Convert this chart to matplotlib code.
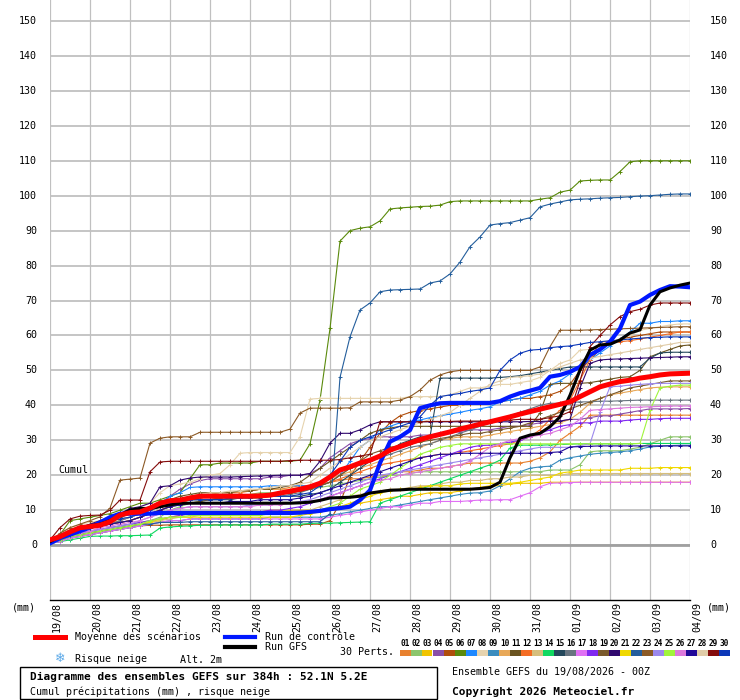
import numpy as np
import matplotlib
matplotlib.use('Agg')
import matplotlib.pyplot as plt
from matplotlib.lines import Line2D
from matplotlib.patches import Rectangle
from matplotlib.transforms import blended_transform_factory, offset_copy

# echeances toutes les 6h, 0 -> 384h
hours = np.arange(0, 385, 6)
dates = ['19/08', '20/08', '21/08', '22/08', '23/08', '24/08', '25/08', '26/08', '27/08',
         '28/08', '29/08', '30/08', '31/08', '01/09', '02/09', '03/09', '04/09']
yticks = list(range(0, 151, 10))

m01 = [1, 2, 3, 4, 5, 5.5, 6, 6.5, 7, 8, 9, 10, 11, 12, 13, 14,
       14.5, 15, 15, 15, 15.5, 16, 16, 16, 16.5, 17, 17, 17.5, 18, 18.5, 19, 19,
       19.5, 20, 20, 21, 21, 21.5, 22, 22, 22.5, 23, 23.5, 23.5, 23.5, 23.5, 23.5, 23.5,
       24, 25, 26.7, 30, 32, 34, 37.2, 37.2, 37.2, 37.2, 37.2, 37.2, 37.2, 37.2, 37.2, 37.2,
       37.2]
m02 = [1, 2, 3, 3.5, 4, 4.5, 5, 5.5, 6, 6.5, 7, 8, 10, 11, 12, 12.5,
       13, 13.5, 14, 14, 14.5, 15, 15, 15, 15, 15.5, 16, 16.5, 17, 17.5, 18, 18.5,
       19, 19.5, 20, 20, 20.5, 21, 21, 21, 21, 21, 21, 21, 21, 21, 21, 21,
       21, 21, 21.5, 21.5, 21.5, 23, 26.7, 27, 27, 27, 27.5, 28, 29, 30, 31, 31,
       31]
m03 = [0.5, 1.5, 2.5, 3, 3.5, 4, 4.5, 5, 5.5, 6, 6.5, 7, 8, 8.5, 9, 9,
       9, 9, 9, 9, 9.5, 9.5, 10, 10, 10, 10, 10, 10, 10.5, 11, 11.5, 12,
       12.5, 13, 13.5, 14, 14, 14.5, 15, 15, 15, 15.5, 16, 16.5, 17, 17, 17.5, 17.7,
       17.7, 17.7, 18, 18, 18, 18, 18, 18, 18, 18, 18, 18, 18, 18, 18, 18,
       18]
m04 = [1, 2.5, 4, 5, 6, 6.5, 7, 7.5, 8, 9, 10, 11, 14, 16, 17.5, 18.5,
       19, 19, 19, 19, 19, 19, 19.5, 19.5, 20, 20, 20.5, 22, 25, 27, 29, 30,
       30.5, 31, 31, 31, 31, 31.5, 31.5, 32, 32, 32.5, 33, 33, 33, 33.5, 34, 34,
       34.5, 35, 35.5, 35.5, 36, 36, 36.5, 37, 37, 37.5, 38, 38.5, 39, 39, 39, 39,
       39.1]
m05 = [0.5, 1, 2, 2.5, 3, 3.5, 4, 4.5, 5, 5.5, 5.7, 5.7, 5.8, 5.8, 5.8, 5.8,
       5.8, 5.8, 5.8, 5.8, 5.8, 5.8, 5.8, 5.8, 5.8, 5.8, 6, 6, 7, 12, 19.6, 24,
       28, 32, 35, 37, 38, 38.5, 39, 39.5, 40, 40, 40.5, 40.5, 41, 41, 41.5, 42,
       42, 42.5, 43, 44, 46, 50, 53, 56, 58, 59, 59.5, 60, 60.5, 61, 61, 61,
       61]
m06 = [1, 3, 7, 7.5, 8, 8.5, 9, 10, 11, 12, 12, 13, 14, 15, 19, 23,
       23, 23.5, 23.5, 23.5, 23.5, 24, 24, 24, 24, 24.3, 29, 41.5, 62, 87, 90, 90.7,
       91.1, 92.8, 96.2, 96.5, 96.7, 96.9, 97, 97.3, 98.3, 98.5, 98.5, 98.5, 98.5, 98.5, 98.5, 98.5,
       98.5, 99, 99.4, 101, 101.6, 104.2, 104.4, 104.5, 104.5, 106.9, 109.7, 110, 110, 110, 110, 110,
       110]
m07 = [1, 2, 3, 4, 5, 5.5, 6, 7, 8, 9, 10, 12, 14, 15, 16.5, 16.7,
       16.7, 16.7, 16.7, 16.7, 16.7, 16.7, 17, 17, 17, 17, 17, 17, 18, 20, 24, 28,
       30, 33, 34, 35, 35.5, 35.8, 36.5, 37, 37.5, 38, 38.6, 39, 39.6, 41, 41.5, 42,
       43, 44, 45.8, 47, 49, 51, 53, 55, 57, 59, 61, 63.5, 63.5, 64, 64, 64.2,
       64.2]
m08 = [1.5, 3, 5, 6, 6.5, 7, 7.5, 9, 10, 11, 12, 15, 17, 17.5, 18, 19,
       20, 20.5, 23, 26.3, 26.5, 26.5, 26.5, 26.5, 26.5, 31, 41.8, 42, 42, 42, 42, 42,
       42, 42, 42, 42, 42.5, 42.5, 42.5, 42.5, 43, 44, 45, 45, 45.5, 46, 46, 46.5,
       47, 48, 50, 52, 53, 55.8, 56, 57, 58, 59, 60, 61.5, 62, 62.5, 63, 63.3,
       63.3]
m09 = [0.5, 1, 2, 2.5, 3, 3.5, 4, 4.5, 5, 5.5, 6, 6.5, 7, 7, 7.5, 7.5,
       7.5, 7.5, 7.5, 7.5, 7.5, 7.5, 8, 8, 8, 8, 8, 8, 8.5, 9, 9.5, 10,
       10.5, 11, 11, 11.5, 12, 12.5, 13, 13.5, 14, 14.5, 14.9, 15, 15.5, 17, 19, 21,
       22, 22.4, 22.6, 24.3, 25, 25.5, 26, 26.3, 26.5, 26.7, 27, 27.5, 28.1, 28.3, 28.5, 28.6,
       28.6]
m10 = [1, 2, 3, 4, 5, 6, 6.5, 7, 8, 9, 10, 11, 12, 13, 14, 14.5,
       15, 15, 15, 15.5, 15.5, 16, 16, 16, 16, 16.5, 17, 18, 19, 20, 21, 22,
       23, 24, 25, 26, 27, 28, 29, 30, 30.5, 31, 31, 31, 31.5, 32, 32.5, 33,
       33.5, 34, 34.5, 35, 36, 38, 40.6, 42, 43, 43.5, 44, 44.5, 45, 45.2, 45.3, 45.3,
       45.3]
m11 = [1, 2, 3.5, 4.5, 5.5, 6, 7, 8, 9, 10, 11, 12, 13, 14, 14.5, 15,
       15, 15, 15, 15.5, 15.5, 16, 16, 16.5, 17, 18, 20, 22, 24, 26, 28, 30,
       32, 33, 33.5, 34, 34, 34, 34, 34, 34, 34, 34, 34, 34, 34, 34, 34,
       34, 37.8, 46, 46.3, 46.3, 46.3, 46.5, 47, 47.5, 48, 48.2, 50, 53.9, 55, 56, 57,
       57.3]
m12 = [1, 2, 3, 4, 5, 5.5, 6, 6.5, 7, 8, 9, 10, 11, 12, 13, 13.5,
       14, 14, 14, 14, 14, 14.5, 14.5, 14.5, 15, 15.5, 16, 17, 18, 19, 20, 21,
       22, 23, 23.5, 24, 24.5, 25, 25.5, 26, 26, 26.5, 27, 27.5, 28, 28.5, 29, 30,
       31, 33, 36, 38.6, 41.5, 47.2, 53, 58.2, 58.2, 58.2, 58.5, 59, 59.5, 60, 60.5, 61,
       61]
m13 = [0.5, 1.5, 2.5, 3, 3.5, 4, 4.5, 5, 5.5, 6, 6.5, 7, 7.5, 8, 8, 8.5,
       8.5, 8.5, 8.5, 9, 9, 9, 9, 9, 9, 9.5, 10, 11, 12, 13, 14, 14.5,
       15, 15.5, 16, 16, 16.5, 17, 17, 17.5, 18, 18, 18.5, 18.5, 19, 19, 19.5, 19.5,
       20, 20, 20, 20, 20.5, 20.5, 20.5, 20.5, 20.5, 20.5, 20.5, 20.5, 20.5, 20.5, 20.5, 20.5,
       20.5]
m14 = [0.5, 1, 1.5, 2, 2.5, 2.6, 2.6, 2.7, 2.7, 2.8, 2.9, 4.9, 5.2, 5.4, 5.5, 5.7,
       5.7, 5.8, 5.8, 5.8, 5.8, 5.8, 6, 6, 6, 6, 6.2, 6.3, 6.3, 6.4, 6.5, 6.6,
       6.7, 12, 13, 14, 15, 16, 17, 18, 19, 20, 21, 22, 23, 24.3, 27.8, 28.6,
       28.6, 28.6, 28.7, 28.8, 28.9, 29, 29, 29, 29, 29, 29, 29.1, 29.1, 29.1, 29.1, 29.1,
       29.1]
m15 = [1, 2, 3, 4, 5, 6, 7, 8, 9, 10, 11, 12, 12.5, 13, 13, 13,
       13, 13, 13, 13.5, 13.5, 13.5, 14, 14, 14, 14, 14.5, 15, 16, 18, 20, 22,
       24, 25, 27, 29, 30, 31, 31, 47.8, 47.8, 47.8, 47.8, 47.8, 47.8, 48, 48.2, 48.5,
       49, 49.5, 50, 50.5, 51, 51, 51, 51, 51, 51, 51, 51, 53.5, 55, 55.2, 55.2,
       55.2]
m16 = [1, 2, 3, 4, 5, 5.5, 6, 7, 8, 9, 10, 11, 12, 12.5, 13, 13,
       13, 13.5, 13.5, 13.5, 14, 14, 14, 14, 14.5, 15, 16, 17, 18, 20, 22, 23,
       24, 25, 26, 27, 28, 28.5, 29, 30, 31, 32, 33, 34, 35, 36, 37, 38,
       39, 40, 40.6, 40.6, 40.8, 41, 41, 41.2, 41.2, 41.3, 41.4, 41.5, 41.5, 41.5, 41.5, 41.5,
       41.5]
m17 = [0.5, 1, 2, 2.5, 3, 3.5, 4, 4.5, 5, 5.5, 6, 6.5, 7, 7, 7.5, 7.5,
       7.5, 7.5, 7.5, 7.5, 7.5, 7.5, 7.5, 7.5, 7.5, 7.5, 7.5, 7.5, 8, 8.5, 9, 9.5,
       10, 10.5, 11, 11, 11.5, 12, 12, 12.5, 12.5, 12.5, 12.7, 12.9, 12.9, 13, 13, 14,
       15, 16.7, 17.7, 17.8, 17.9, 18, 18, 18, 18, 18, 18, 18, 18, 18, 18, 18,
       18]
m18 = [1, 2, 3, 3.5, 4, 4.5, 5, 5.5, 6, 6.5, 7, 7.5, 8, 8.5, 9, 9,
       9, 9, 9, 9, 9.5, 9.5, 10, 10, 10.5, 11, 12, 13, 14, 15, 16, 17,
       18, 19, 20, 21, 22, 23, 24, 25, 26, 27, 28, 28.5, 28.6, 29, 29.5, 30,
       31, 32, 33, 34, 34.5, 35, 35, 35.5, 35.5, 35.5, 35.8, 36, 36, 36.2, 36.3, 36.3,
       36.3]
m19 = [1, 2, 3, 4, 5, 5.5, 6, 6.5, 7, 8, 9, 10, 11, 11.5, 12, 12.5,
       13, 13.5, 14, 14, 14, 14.5, 14.5, 15, 15, 15.5, 16, 17, 18, 20, 22, 24,
       26, 27, 28, 28.5, 29, 29.5, 30, 30.5, 31, 31.5, 32, 32, 32.5, 33, 33.5, 34,
       35, 36, 37, 38, 39, 40, 41, 42, 43, 44, 45, 45.5, 46, 46.5, 47, 47,
       47]
m20 = [1, 3, 4, 5, 6, 7, 8, 9, 10.5, 11, 12, 16.7, 17, 18.6, 19.2, 19.5,
       19.5, 19.5, 19.5, 19.6, 19.7, 19.8, 19.9, 20, 20, 20, 20.5, 24, 29.2, 32, 32, 33,
       34.4, 35.3, 35.3, 35.3, 35.3, 35.3, 35.3, 35.3, 35.3, 35.3, 35.3, 35.3, 35.3, 35.3, 35.3, 35.3,
       35.4, 35.4, 35.5, 35.5, 36, 45, 52, 53, 53.2, 53.3, 53.4, 53.5, 53.6, 53.7, 53.8, 53.9,
       53.9]
m21 = [0.5, 1.5, 2.5, 3, 3.5, 4, 4.5, 5, 5.5, 6, 6.5, 7.5, 8, 8, 8, 8,
       8, 8, 8, 8, 8, 8, 8, 8, 8, 8.5, 9, 9.5, 10, 11, 12, 13,
       14, 15, 15.5, 16, 16, 16.5, 17, 17, 17, 17.5, 17.7, 17.7, 17.7, 17.7, 17.7, 18,
       18.5, 19, 19.5, 20.6, 21, 21.5, 21.5, 21.5, 21.5, 21.5, 22, 22, 22, 22.2, 22.2, 22.2,
       22.2]
m22 = [0.5, 1.5, 2.5, 3, 3.5, 4, 4.5, 5, 5.5, 6, 6, 6.5, 6.5, 6.5, 6.7, 6.7,
       6.7, 6.7, 6.7, 6.7, 6.7, 6.7, 6.7, 6.7, 6.7, 6.7, 6.7, 6.7, 9, 48, 59.6, 67.3,
       69.3, 72.5, 73, 73.1, 73.2, 73.3, 75, 75.6, 77.6, 81, 85.4, 88.2, 91.6, 92, 92.3, 93,
       93.7, 96.8, 97.6, 98.2, 98.8, 99, 99.1, 99.3, 99.4, 99.5, 99.7, 99.9, 100, 100.2, 100.4, 100.5,
       100.5]
m23 = [1, 3.4, 5, 6, 7, 8.1, 10.6, 18.6, 18.9, 19.2, 29.2, 30.6, 31, 31, 31, 32.3,
       32.3, 32.3, 32.3, 32.3, 32.3, 32.3, 32.3, 32.3, 33.2, 37.8, 39.2, 39.2, 39.2, 39.2, 39.3, 41,
       41, 41, 41, 41.5, 42.5, 44.4, 47.2, 48.7, 49.6, 50, 50, 50, 50, 50, 50, 50,
       50, 51, 56.8, 61.5, 61.5, 61.5, 61.6, 61.7, 61.8, 61.9, 62, 62.1, 62.2, 62.3, 62.4, 62.5,
       62.5]
m24 = [1, 2, 3, 3.5, 4, 4.5, 5, 5.5, 6, 7, 8, 9, 10, 10.5, 11, 11,
       11, 11, 11, 11, 11.5, 11.5, 11.5, 12, 12, 12.5, 13, 14, 15, 16, 17, 18,
       19, 20, 20.5, 21, 21.5, 22, 22.5, 23, 23.5, 24, 24.5, 25, 25.5, 26, 26.5, 27,
       27.5, 28, 28, 28, 28, 28.5, 29, 38, 45.3, 45.5, 45.8, 46, 46.2, 46.3, 46.3, 46.3,
       46.3]
m25 = [0.5, 1.5, 2.5, 3, 3.5, 4, 4.5, 5, 5.5, 6, 7, 7.5, 8, 8, 8.5, 8.5,
       8.5, 8.5, 8.5, 8.5, 8.5, 8.5, 9, 9, 9, 9, 9.5, 10, 11, 12, 14, 16,
       17, 18, 20, 22, 24, 26, 27, 28, 28.5, 29, 29, 29, 29, 29, 29, 29,
       29, 29, 29, 29, 29, 29, 29, 29, 29, 29, 29, 29.1, 38.6, 45, 45.5, 45.8,
       45.8]
m26 = [1, 2, 3, 3.5, 4, 5, 5.5, 6, 6.5, 7, 8, 9, 10, 10.5, 11, 11,
       11, 11, 11, 11, 11, 11.5, 11.5, 11.5, 12, 12, 12.5, 13, 14, 15, 16, 17,
       18, 18.5, 19, 20, 20.5, 21, 21.5, 22, 22.5, 23, 24, 26, 28, 29, 30, 30.5,
       31, 31.5, 32, 33, 34, 36, 38.6, 38.8, 39, 39.2, 39.4, 39.5, 39.6, 39.7, 39.8, 39.8,
       39.8]
m27 = [1, 2, 3, 4, 5, 5.5, 6, 6.5, 7, 8, 9, 10, 11, 11.5, 12, 12,
       12, 12, 12.5, 12.5, 12.5, 13, 13, 13, 13, 13.5, 14, 15, 16, 17, 18, 19,
       20, 21, 22, 23, 24, 25, 25.5, 26, 26, 26.3, 26.3, 26.3, 26.3, 26.3, 26.3, 26.3,
       26.3, 26.3, 26.5, 26.7, 28.1, 28.2, 28.3, 28.4, 28.4, 28.4, 28.4, 28.4, 28.4, 28.4, 28.4, 28.4,
       28.4]
m28 = [1, 2, 3, 4, 5, 6, 7, 7.5, 8, 9, 10, 11, 12, 13, 14, 14.5,
       15, 15, 15.5, 15.5, 16, 16, 16.5, 17, 17, 17.5, 18, 20, 22, 24, 26, 28,
       30, 31, 32, 33, 34, 35, 36, 37, 38, 40, 42, 44, 46, 47, 48, 48.2,
       48.5, 49, 50, 51, 52, 53, 53.5, 54, 54.5, 55, 55.5, 56, 56.5, 57, 57.5, 58,
       58]
m29 = [1.5, 5, 7.5, 8.3, 8.5, 8.6, 10, 12.9, 12.9, 12.9, 21, 23.8, 24, 24, 24, 24,
       24, 24, 24, 24, 24, 24, 24, 24, 24.2, 24.3, 24.3, 24.3, 24.3, 24.5, 25, 25.5,
       26, 35.3, 35.3, 35.3, 35.3, 35.3, 35.4, 35.4, 35.4, 35.5, 35.5, 35.5, 35.6, 35.6, 35.8, 36,
       36, 36, 36.5, 37, 38.2, 47, 56.8, 60, 63, 65.4, 66.8, 67.5, 68.7, 69.3, 69.3, 69.3,
       69.3]
m30 = [1, 2, 3, 4, 5, 6, 7, 7.5, 8, 9, 10, 11, 12, 12.5, 13, 13,
       13, 13, 13.5, 13.5, 13.5, 14, 14, 14, 14, 14.5, 15, 17, 20, 24, 28, 30,
       31, 32, 33, 34, 35, 36.7, 40, 42.5, 43, 43.4, 44, 44.4, 45, 50, 53, 54.9,
       55.8, 56, 56.5, 56.8, 57, 57.5, 58, 58.2, 58.5, 58.7, 59, 59.2, 59.4, 59.5, 59.6, 59.6,
       59.6]

control = [0.5, 2, 3, 4, 5, 6.5, 8, 9, 9, 9, 9, 9.2, 9.2, 9.2, 9.2, 9.2,
           9.2, 9.2, 9.2, 9.2, 9.2, 9.2, 9.2, 9.2, 9.2, 9.3, 9.5, 9.8, 10.3, 10.6, 11, 12.9,
           15.7, 23.5, 29.6, 31, 32.9, 39.2, 40, 40.6, 40.7, 40.7, 40.7, 40.7, 40.7, 41.2, 42.5, 43.5,
           44.2, 45, 48.2, 48.7, 49.6, 51, 54.4, 56, 58.2, 62, 68.7, 69.7, 71.6, 73, 74.1, 74,
           73.8]
gfs = [1, 2.5, 4, 5, 5.5, 6, 7, 8.5, 10, 10.5, 10.5, 11, 11.5, 12, 12, 12,
       12, 12, 12, 12, 12, 12, 12, 12, 12, 12.1, 12.3, 12.8, 13.5, 13.6, 13.7, 14,
       14.9, 15.3, 15.7, 15.8, 16, 16, 16, 16, 16, 16, 16, 16.2, 16.5, 18, 25, 30.6,
       31.5, 32, 33.9, 36.7, 42.9, 50.1, 55.8, 57.3, 57.5, 58.7, 60.7, 61.6, 68.7, 72.5, 73.6, 74.4,
       75]
mean = [1.5, 2.4, 3.8, 5, 5.3, 5.7, 6.7, 8.6, 9.3, 9.5, 10.6, 12, 12.7, 12.9, 13.5, 14,
        14, 14, 14, 14, 14, 14.1, 14.3, 14.9, 15.4, 16, 16.7, 17.7, 19.5, 21.5, 22.4, 23.5,
        24.3, 25.5, 27.2, 28.2, 29.2, 30.2, 31, 31.7, 32.4, 33.2, 33.9, 34.6, 35.3, 36, 36.7, 37.5,
        38.2, 38.9, 39.6, 40.3, 41, 42.5, 43.9, 45.3, 46.1, 46.8, 47.2, 47.8, 48.2, 48.7, 49, 49.1,
        49.2]

colors = ['#E8812F', '#8CC56C', '#F0C400', '#8A4FA8', '#B04E0C', '#5A8A0C', '#1E88FF', '#E6D3AE',
          '#3A8CBE', '#E8A858', '#6A5420', '#F46C24', '#D6BE7C', '#10D860', '#24485C', '#687480',
          '#E070F4', '#8028F0', '#7A5A2C', '#30086E', '#F0D800', '#245E9C', '#8C5A26', '#9C88EC',
          '#A0F43C', '#DC78DC', '#200898', '#E0CCA8', '#840C0C', '#0C38B8']

members = [m01, m02, m03, m04, m05, m06, m07, m08, m09, m10, m11, m12, m13, m14, m15,
           m16, m17, m18, m19, m20, m21, m22, m23, m24, m25, m26, m27, m28, m29, m30]
for i, m in enumerate(members + [control, gfs, mean]):
    assert len(m) == len(hours), (i, len(m))

plt.rcParams['font.family'] = ['DejaVu Sans Mono', 'DejaVu Sans']
FS = 7.2

W, H = 740, 700
fig = plt.figure(figsize=(W / 100, H / 100), dpi=100)
ax = fig.add_axes([50 / W, 100 / H, 640 / W, 600 / H])

days = hours / 24.0
for m, c in zip(members, colors):
    ax.plot(days, m, color=c, lw=0.8, marker='+', ms=3.5, mew=0.7, zorder=3)
ax.plot(days, control, color='#0018FF', lw=3.0, zorder=4)
ax.plot(days, gfs, color='black', lw=2.2, zorder=5)
ax.plot(days, mean, color='#FF0000', lw=3.6, zorder=6)

ax.set_xlim(0, 16)
ax.set_ylim(-15.7, 156)
ax.set_xticks(range(17))
ax.set_yticks(yticks)
ax.tick_params(length=0, labelbottom=False, labelleft=False)
ax.grid(axis='x', color='#C0C0C0', lw=0.9, zorder=1)
ax.grid(axis='y', color='#C0C0C0', lw=1.3, zorder=1)
ax.axhline(0, color='#A0A0A0', lw=2.0, zorder=2)
for s in ['top', 'left', 'right']:
    ax.spines[s].set_visible(False)
ax.spines['bottom'].set_color('black')
ax.spines['bottom'].set_linewidth(1.0)

# graduations gauche / droite
ty = blended_transform_factory(ax.transAxes, ax.transData)
for v in yticks:
    ax.text(0, v, str(v), transform=offset_copy(ty, fig=fig, x=-13, y=0, units='dots'),
            ha='right', va='center', fontsize=FS)
    ax.text(1, v, str(v), transform=offset_copy(ty, fig=fig, x=20, y=0, units='dots'),
            ha='left', va='center', fontsize=FS)

# dates
tx = blended_transform_factory(ax.transData, ax.transAxes)
for d, lab in enumerate(dates):
    ax.text(d, 0, lab, transform=offset_copy(tx, fig=fig, x=2, y=-2, units='dots'),
            rotation=90, ha='left', va='top', fontsize=FS)

ax.text(0.22, 21.5, 'Cumul', fontsize=FS, va='center', ha='left')


def fx(x):
    return x / W


def fy(y):
    return 1 - y / H


fig.text(fx(12), fy(607), '(mm)', fontsize=FS, va='center')
fig.text(fx(707), fy(607), '(mm)', fontsize=FS, va='center')

# legende
fig.add_artist(Line2D([fx(35), fx(65)], [fy(637), fy(637)], color='#FF0000', lw=3.6))
fig.text(fx(75), fy(637), 'Moyenne des scénarios', fontsize=FS, va='center')
fig.add_artist(Line2D([fx(225), fx(255)], [fy(637), fy(637)], color='#0018FF', lw=3.0))
fig.text(fx(265), fy(637), 'Run de contrôle', fontsize=FS, va='center')
fig.add_artist(Line2D([fx(225), fx(255)], [fy(647), fy(647)], color='black', lw=3.0))
fig.text(fx(265), fy(647), 'Run GFS', fontsize=FS, va='center')
fig.text(fx(60), fy(658), '\u2744', fontsize=9, color='#5AA8E8', ha='center', va='center',
         family='DejaVu Sans')
fig.text(fx(75), fy(659), 'Risque neige', fontsize=FS, va='center')
fig.text(fx(180), fy(660), 'Alt. 2m', fontsize=FS, va='center')
fig.text(fx(340), fy(652), '30 Perts.', fontsize=FS, va='center')

for i, c in enumerate(colors):
    x0 = 400 + 11 * i
    fig.add_artist(Rectangle((fx(x0), fy(656)), 10.5 / W, 6 / H, transform=fig.transFigure,
                             facecolor=c, edgecolor='none'))
    fig.text(fx(x0 + 5.5), fy(643), '%02d' % (i + 1), fontsize=5.6, ha='center', va='center',
             weight='bold')

fig.add_artist(Rectangle((fx(20), fy(699)), 417 / W, 32 / H, transform=fig.transFigure,
                         facecolor='none', edgecolor='black', lw=1.0))
fig.text(fx(30), fy(677), 'Diagramme des ensembles GEFS sur 384h : 52.1N 5.2E',
         fontsize=8.0, weight='bold', va='center')
fig.text(fx(30), fy(692), 'Cumul précipitations (mm) , risque neige', fontsize=FS, va='center')
fig.text(fx(452), fy(672), 'Ensemble GEFS du 19/08/2026 - 00Z', fontsize=FS, va='center')
fig.text(fx(452), fy(692), 'Copyright 2026 Meteociel.fr', fontsize=8.0, weight='bold',
         va='center')

fig.savefig('out.png', dpi=100, facecolor='white')
